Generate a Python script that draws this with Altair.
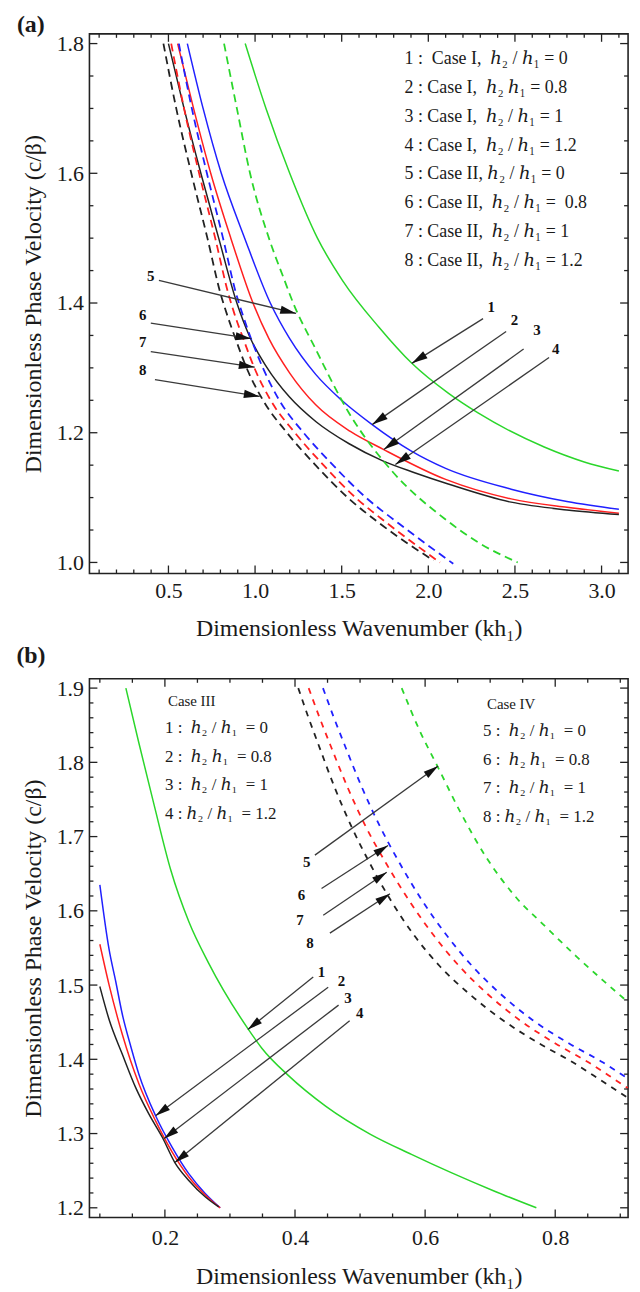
import math
import altair as alt
import pandas as pd

FONT = "'Liberation Serif', 'DejaVu Serif', serif"
INK = "#1a1a1a"
GREEN, BLUE, RED, BLACK = "#2bd62b", "#2020ff", "#ff2020", "#222222"
NB = "\u00a0"

# ---------------- panel (a): Case I (solid) / Case II (dashed) ----------------
A_XDOM = [0.044, 3.153]
A_YDOM = [0.983, 1.815]
A_W, A_H = 542, 543

a1_k = [0.943, 1.063, 1.20, 1.36, 1.504, 1.714, 1.905, 2.115, 2.287, 2.669, 2.9, 3.1]
a1_c = [1.80, 1.70, 1.60, 1.50, 1.435, 1.363, 1.307, 1.261, 1.2305, 1.178, 1.155, 1.141]
a2_k = [0.609, 0.70, 0.805, 0.94, 1.088, 1.2, 1.35, 1.5, 1.676, 1.9, 2.1, 2.478, 2.8, 3.1]
a2_c = [1.80, 1.70, 1.60, 1.50, 1.40, 1.345, 1.29, 1.25, 1.2125, 1.172, 1.145, 1.113, 1.094, 1.082]
a3_k = [0.553, 0.645, 0.744, 0.86, 0.988, 1.08, 1.2, 1.35, 1.55, 1.743, 2.1, 2.478, 2.8, 3.1]
a3_c = [1.80, 1.70, 1.60, 1.50, 1.40, 1.345, 1.292, 1.243, 1.202, 1.174, 1.128, 1.098, 1.085, 1.076]
a4_k = [0.50, 0.59, 0.687, 0.79, 0.895, 0.969, 1.065, 1.199, 1.352, 1.543, 1.734, 1.925, 2.115, 2.478, 2.8, 3.1]
a4_c = [1.80, 1.70, 1.60, 1.50, 1.40, 1.348, 1.302, 1.255, 1.217, 1.183, 1.157, 1.138, 1.121, 1.093, 1.081, 1.074]
a5_k = [0.821, 0.895, 0.971, 1.08, 1.17, 1.22, 1.342, 1.542, 1.79, 2.096, 2.287, 2.516]
a5_c = [1.80, 1.70, 1.60, 1.50, 1.435, 1.40, 1.333, 1.2305, 1.141, 1.067, 1.031, 1.0]
a6_k = [0.56, 0.635, 0.722, 0.815, 0.89, 0.926, 0.977, 1.045, 1.14, 1.28, 1.45, 1.64, 1.83, 2.144]
a6_c = [1.80, 1.70, 1.60, 1.50, 1.415, 1.384, 1.345, 1.30, 1.25, 1.20, 1.15, 1.10, 1.06, 0.998]
a7_k = [0.516, 0.59, 0.677, 0.77, 0.845, 0.88, 0.932, 0.996, 1.09, 1.23, 1.395, 1.58, 1.765, 2.067]
a7_c = [1.80, 1.70, 1.60, 1.50, 1.415, 1.384, 1.345, 1.30, 1.25, 1.20, 1.15, 1.10, 1.06, 1.0]
a8_k = [0.471, 0.545, 0.632, 0.725, 0.80, 0.836, 0.887, 0.951, 1.046, 1.184, 1.349, 1.535, 1.72, 2.03]
a8_c = [1.80, 1.70, 1.60, 1.50, 1.415, 1.384, 1.345, 1.30, 1.25, 1.20, 1.15, 1.10, 1.06, 1.003]

a_xticks = [round(0.1 * i, 2) for i in range(1, 32)]
a_yticks = [round(1.0 + 0.05 * i, 2) for i in range(17)]
a_xlabels = [0.5, 1.0, 1.5, 2.0, 2.5, 3.0]
a_ylabels = [1.0, 1.2, 1.4, 1.6, 1.8]

a_arrow_lab = ["1", "2", "3", "4", "5", "6", "7", "8"]
a_arrow_x0 = [2.316, 2.449, 2.55, 2.697, 0.445, 0.398, 0.398, 0.422]
a_arrow_y0 = [1.376, 1.356, 1.329, 1.316, 1.435, 1.369, 1.325, 1.282]
a_arrow_x1 = [1.905, 1.676, 1.743, 1.81, 1.237, 0.979, 0.998, 1.027]
a_arrow_y1 = [1.307, 1.2125, 1.174, 1.151, 1.384, 1.345, 1.301, 1.256]
a_lab_x = [2.363, 2.497, 2.627, 2.735, 0.397, 0.351, 0.351, 0.351]
a_lab_y = [1.394, 1.373, 1.358, 1.329, 1.442, 1.381, 1.340, 1.297]

a_legend = [
    "1 :  Case I,  ℎ₂ / ℎ₁ = 0",
    "2 : Case I,  ℎ₂ ℎ₁ = 0.8",
    "3 : Case I,  ℎ₂ / ℎ₁ = 1",
    "4 : Case I,  ℎ₂ / ℎ₁ = 1.2",
    "5 : Case II, ℎ₂ / ℎ₁ = 0",
    "6 : Case II,  ℎ₂ / ℎ₁ =  0.8",
    "7 : Case II,  ℎ₂ / ℎ₁ = 1",
    "8 : Case II,  ℎ₂ / ℎ₁ = 1.2",
]

# ---------------- panel (b): Case III (solid) / Case IV (dashed) ----------------
B_XDOM = [0.084, 0.912]
B_YDOM = [1.187, 1.9125]
B_W, B_H = 542, 542

b1_k = [0.140, 0.160, 0.183, 0.209, 0.237, 0.267, 0.3286, 0.349, 0.39, 0.447, 0.516, 0.579, 0.641, 0.705, 0.771]
b1_c = [1.90, 1.826, 1.744, 1.655, 1.585, 1.530, 1.44, 1.415, 1.378, 1.337, 1.299, 1.272, 1.247, 1.223, 1.20]
b2_k = [0.100, 0.114, 0.1245, 0.1347, 0.148, 0.16, 0.1857, 0.2112, 0.2367, 0.2623, 0.285]
b2_c = [1.635, 1.549, 1.5045, 1.46, 1.416, 1.38, 1.324, 1.2815, 1.246, 1.219, 1.20]
b3_k = [0.100, 0.114, 0.1347, 0.16, 0.1857, 0.2112, 0.2367, 0.2623, 0.285]
b3_c = [1.555, 1.501, 1.433, 1.367, 1.317, 1.275, 1.2415, 1.217, 1.20]
b4_k = [0.100, 0.1143, 0.1347, 0.1551, 0.1755, 0.196, 0.2153, 0.2367, 0.2623, 0.2827]
b4_c = [1.498, 1.4533, 1.4065, 1.3619, 1.3262, 1.295, 1.261, 1.2369, 1.2146, 1.2013]
b5_k = [0.564, 0.592, 0.62, 0.653, 0.694, 0.74, 0.786, 0.832, 0.8725, 0.912]
b5_c = [1.90, 1.842, 1.793, 1.735, 1.672, 1.618, 1.578, 1.539, 1.507, 1.477]
b6_k = [0.443, 0.459, 0.476, 0.503, 0.531, 0.561, 0.596, 0.634, 0.673, 0.716, 0.765, 0.822, 0.873, 0.912]
b6_c = [1.90, 1.862, 1.824, 1.766, 1.713, 1.664, 1.613, 1.566, 1.525, 1.488, 1.453, 1.421, 1.396, 1.374]
b7_k = [0.421, 0.437, 0.454, 0.481, 0.509, 0.540, 0.576, 0.614, 0.653, 0.696, 0.745, 0.801, 0.851, 0.893, 0.912]
b7_c = [1.90, 1.862, 1.824, 1.766, 1.713, 1.664, 1.613, 1.566, 1.525, 1.488, 1.453, 1.421, 1.396, 1.372, 1.361]
b8_k = [0.405, 0.42, 0.436, 0.461, 0.487, 0.515, 0.548, 0.584, 0.623, 0.668, 0.719, 0.776, 0.827, 0.870, 0.912]
b8_c = [1.90, 1.862, 1.824, 1.766, 1.713, 1.664, 1.613, 1.566, 1.525, 1.488, 1.453, 1.421, 1.396, 1.372, 1.348]

b_xticks = [round(0.05 * i, 2) for i in range(2, 19)]
b_yticks = [round(1.2 + 0.02 * i, 2) for i in range(36)]
b_xlabels = [0.2, 0.4, 0.6, 0.8]
b_ylabels = [1.2, 1.3, 1.4, 1.5, 1.6, 1.7, 1.8, 1.9]

b_arrow_lab = ["1", "2", "3", "4", "5", "6", "7", "8"]
b_arrow_x0 = [0.428, 0.451, 0.467, 0.484, 0.4306, 0.4408, 0.4434, 0.4536]
b_arrow_y0 = [1.511, 1.497, 1.473, 1.452, 1.675, 1.630, 1.594, 1.570]
b_arrow_x1 = [0.3275, 0.1857, 0.1985, 0.2153, 0.620, 0.543, 0.541, 0.546]
b_arrow_y1 = [1.440, 1.324, 1.293, 1.261, 1.795, 1.688, 1.652, 1.623]
b_lab_x = [0.4408, 0.4714, 0.4816, 0.4995, 0.418, 0.410, 0.4077, 0.423]
b_lab_y = [1.518, 1.505, 1.483, 1.462, 1.666, 1.621, 1.588, 1.556]

b_legend_iii = ["1 :  ℎ₂ / ℎ₁  = 0", "2 :  ℎ₂ ℎ₁  = 0.8", "3 :  ℎ₂ / ℎ₁  = 1", "4 : ℎ₂ / ℎ₁  = 1.2"]
b_legend_iv = ["5 :  ℎ₂ / ℎ₁  = 0", "6 :  ℎ₂ ℎ₁  = 0.8", "7 :  ℎ₂ / ℎ₁  = 1", "8 : ℎ₂ / ℎ₁  = 1.2"]

CURVE_IDS = ["1", "2", "3", "4", "5", "6", "7", "8"]
CURVE_COLORS = [GREEN, BLUE, RED, BLACK, GREEN, BLUE, RED, BLACK]
ARROW_PATH = "M0,0L0.26,1L-0.26,1Z"
TICK_COLOR = "#222222"


def curve_frame(ids, ks, cs):
    rows = []
    for cid, k, c in zip(ids, ks, cs):
        for kk, cc in zip(k, c):
            rows.append({"id": cid, "k": kk, "c": cc})
    return pd.DataFrame(rows)


def arrow_frame(lab, x0, y0, x1, y1, lx, ly, xdom, ydom, W, H):
    def px(x):
        return (x - xdom[0]) / (xdom[1] - xdom[0]) * W

    def py(y):
        return (ydom[1] - y) / (ydom[1] - ydom[0]) * H

    ang = []
    for a, b, c, d in zip(x0, y0, x1, y1):
        dx = px(c) - px(a)
        dy = py(d) - py(b)
        ang.append(math.degrees(math.atan2(dx, -dy)) % 360)
    return pd.DataFrame({"lab": lab, "x0": x0, "y0": y0, "x1": x1, "y1": y1,
                         "lx": lx, "ly": ly, "ang": ang})


def text_layer(txt, x, y, size, weight="normal", align="left", baseline="middle"):
    return alt.Chart(pd.DataFrame({"t": [txt.replace(" ", NB)]})).mark_text(
        font=FONT, fontSize=size, fontWeight=weight, align=align, baseline=baseline, color=INK
    ).encode(x=alt.value(x), y=alt.value(y), text="t:N")


def edge_ticks(values, n, channel, scale, W, H, major=8, minor=4):
    """Inward frame ticks on both edges for one channel, built from tick values."""
    test = f"abs(datum.v*{n} - round(datum.v*{n})) < 0.001"
    df = pd.DataFrame({"v": values})
    layers = []
    for flt, L in [(test, major), (f"!({test})", minor)]:
        base = alt.Chart(df).transform_filter(flt).mark_rule(color=TICK_COLOR, strokeWidth=1.3)
        if channel == "x":
            for y0, y1 in [(H, H - L), (0, L)]:
                layers.append(base.encode(x=alt.X("v:Q", scale=scale, axis=None),
                                          y=alt.value(y0), y2=alt.value(y1)))
        else:
            for x0, x1 in [(0, L), (W, W - L)]:
                layers.append(base.encode(y=alt.Y("v:Q", scale=scale, axis=None),
                                          x=alt.value(x0), x2=alt.value(x1)))
    return layers


def panel(solid_df, dash_df, dash, xdom, ydom, W, H, xticks, yticks, xlabels, ylabels,
          nx, ny, xlabpad, xtitle_y, arrows, texts, head_size):
    xs = alt.Scale(domain=xdom, nice=False, zero=False)
    ys = alt.Scale(domain=ydom, nice=False, zero=False)
    lab_x = alt.Axis(orient="bottom", values=xlabels, format=".1f", ticks=False, domain=False,
                     grid=False, labelFontSize=22, labelPadding=xlabpad,
                     title="Dimensionless Wavenumber (kh₁)", titleFontSize=24,
                     titleFontWeight="normal", titleX=W / 2, titleY=xtitle_y,
                     titleBaseline="alphabetic", titleAlign="center")
    lab_y = alt.Axis(orient="left", values=ylabels, format=".1f", ticks=False, domain=False,
                     grid=False, labelFontSize=22, labelPadding=6,
                     title="Dimensionless Phase Velocity (c/β)", titleFontSize=24,
                     titleFontWeight="normal", titleX=-56, titleY=H / 2, titleAngle=270,
                     titleBaseline="middle", titleAlign="center")
    color = alt.Color("id:N", scale=alt.Scale(domain=CURVE_IDS, range=CURVE_COLORS), legend=None)
    solid = alt.Chart(solid_df).mark_line(strokeWidth=1.5, clip=True, interpolate="monotone").encode(
        x=alt.X("k:Q", scale=xs, axis=lab_x), y=alt.Y("c:Q", scale=ys, axis=lab_y), color=color)
    dashed = alt.Chart(dash_df).mark_line(strokeWidth=1.8, strokeDash=dash, clip=True,
                                          interpolate="monotone").encode(
        x=alt.X("k:Q", scale=xs, axis=None), y=alt.Y("c:Q", scale=ys, axis=None), color=color)
    ticks = edge_ticks(xticks, nx, "x", xs, W, H) + edge_ticks(yticks, ny, "y", ys, W, H)
    rules = alt.Chart(arrows).mark_rule(color="#3a3a3a", strokeWidth=1.3).encode(
        x=alt.X("x0:Q", scale=xs, axis=None), y=alt.Y("y0:Q", scale=ys, axis=None),
        x2="x1:Q", y2="y1:Q")
    heads = alt.Chart(arrows).mark_point(shape=ARROW_PATH, filled=True, color="#111111",
                                         opacity=1, size=head_size, strokeWidth=0).encode(
        x=alt.X("x1:Q", scale=xs, axis=None), y=alt.Y("y1:Q", scale=ys, axis=None),
        angle=alt.Angle("ang:Q", scale=None))
    labels = alt.Chart(arrows).mark_text(font=FONT, fontSize=15, fontWeight="bold",
                                         color="#111111").encode(
        x=alt.X("lx:Q", scale=xs, axis=None), y=alt.Y("ly:Q", scale=ys, axis=None), text="lab:N")
    layers = [solid, dashed] + ticks + [rules, heads, labels] + texts
    return alt.layer(*layers).resolve_axis(x="independent", y="independent").properties(
        width=W, height=H)


a_solid = curve_frame(CURVE_IDS[:4], [a1_k, a2_k, a3_k, a4_k], [a1_c, a2_c, a3_c, a4_c])
a_dash = curve_frame(CURVE_IDS[4:], [a5_k, a6_k, a7_k, a8_k], [a5_c, a6_c, a7_c, a8_c])
b_solid = curve_frame(CURVE_IDS[:4], [b1_k, b2_k, b3_k, b4_k], [b1_c, b2_c, b3_c, b4_c])
b_dash = curve_frame(CURVE_IDS[4:], [b5_k, b6_k, b7_k, b8_k], [b5_c, b6_c, b7_c, b8_c])

a_arrows = arrow_frame(a_arrow_lab, a_arrow_x0, a_arrow_y0, a_arrow_x1, a_arrow_y1,
                       a_lab_x, a_lab_y, A_XDOM, A_YDOM, A_W, A_H)
b_arrows = arrow_frame(b_arrow_lab, b_arrow_x0, b_arrow_y0, b_arrow_x1, b_arrow_y1,
                       b_lab_x, b_lab_y, B_XDOM, B_YDOM, B_W, B_H)

a_texts = [text_layer("(a)", -73, -2, 24, "bold", baseline="alphabetic")]
a_texts += [text_layer(t, 317, 25.6 + 28.95 * i, 18) for i, t in enumerate(a_legend)]

b_texts = [text_layer("(b)", -73.5, -16, 24, "bold", baseline="alphabetic")]
b_texts += [text_layer("Case III", 79, 22.6, 15)]
b_texts += [text_layer(t, 76, 49.3 + 29 * i, 17) for i, t in enumerate(b_legend_iii)]
b_texts += [text_layer("Case IV", 400, 25.3, 15)]
b_texts += [text_layer(t, 396, 52.6 + 28.7 * i, 17) for i, t in enumerate(b_legend_iv)]

panel_a = panel(a_solid, a_dash, [8, 5], A_XDOM, A_YDOM, A_W, A_H, a_xticks, a_yticks,
                a_xlabels, a_ylabels, 2, 5, 7, 62, a_arrows, a_texts, 1024)
panel_b = panel(b_solid, b_dash, [6, 6], B_XDOM, B_YDOM, B_W, B_H, b_xticks, b_yticks,
                b_xlabels, b_ylabels, 5, 10, 10, 66, b_arrows, b_texts, 900)

chart = alt.vconcat(panel_a, panel_b, spacing=106).properties(
    bounds="flush", padding={"left": 15, "top": 8, "right": 10, "bottom": 6}
).configure_view(stroke="#222222", strokeWidth=1.6).configure_axis(
    labelFont=FONT, titleFont=FONT, labelColor=INK, titleColor=INK
)

chart.save("out.html", embed_options={"renderer": "svg", "actions": False})
